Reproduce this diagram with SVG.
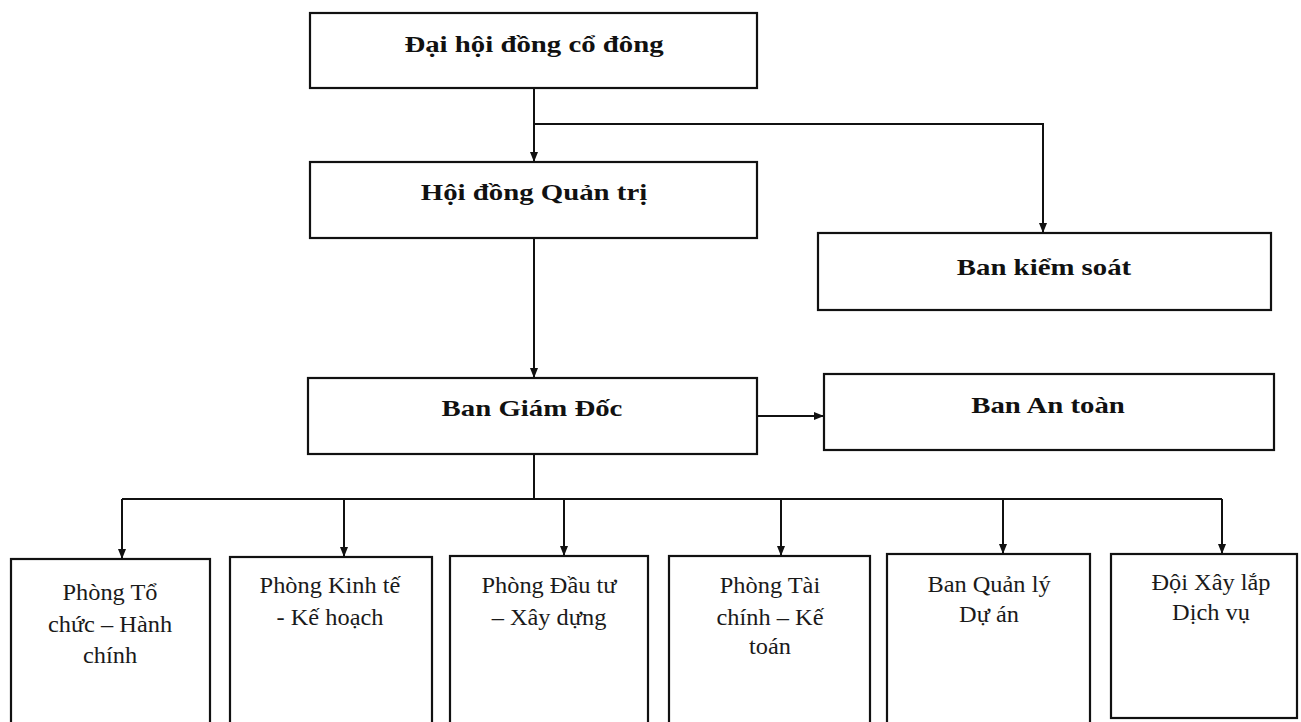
<svg xmlns="http://www.w3.org/2000/svg" width="1301" height="722" viewBox="0 0 1301 722">
<style>
.box{fill:#fff;stroke:#111;stroke-width:2.2}
.t{font-family:"Liberation Serif","Times New Roman",serif;font-weight:bold;font-size:24px;fill:#111;text-anchor:middle}
.s{font-family:"Liberation Serif","Times New Roman",serif;font-size:23px;fill:#1a1a1a;text-anchor:middle}
.c{fill:none;stroke:#111;stroke-width:2}
</style>
<defs>
<marker id="ah" markerWidth="10" markerHeight="10" refX="9" refY="5" orient="auto" markerUnits="userSpaceOnUse">
<path d="M0,1 L10,5 L0,9 Z" fill="#111"/>
</marker>
</defs>
<rect width="1301" height="722" fill="#fff"/>
<g id="connectors">
<path class="c" d="M534,88 V161" marker-end="url(#ah)"/>
<path class="c" d="M534,124 H1043 V232" marker-end="url(#ah)"/>
<path class="c" d="M534,238 V377" marker-end="url(#ah)"/>
<path class="c" d="M757,416 H823" marker-end="url(#ah)"/>
<path class="c" d="M534,454 V499"/>
<path class="c" d="M122,499 H1222"/>
<path class="c" d="M122,499 V558" marker-end="url(#ah)"/>
<path class="c" d="M344,499 V556" marker-end="url(#ah)"/>
<path class="c" d="M564,499 V555" marker-end="url(#ah)"/>
<path class="c" d="M781,499 V555" marker-end="url(#ah)"/>
<path class="c" d="M1003,499 V553" marker-end="url(#ah)"/>
<path class="c" d="M1222,499 V553" marker-end="url(#ah)"/>
</g>
<g id="n-daihoi">
<rect class="box" x="310" y="13" width="447" height="75"/>
<text class="t" transform="translate(534,52) scale(1.2,1)">Đại hội đồng cổ đông</text>
</g>
<g id="n-hdqt">
<rect class="box" x="310" y="162" width="447" height="76"/>
<text class="t" transform="translate(534,200) scale(1.2,1)">Hội đồng Quản trị</text>
</g>
<g id="n-bks">
<rect class="box" x="818" y="233" width="453" height="77"/>
<text class="t" transform="translate(1044,275) scale(1.2,1)">Ban kiểm soát</text>
</g>
<g id="n-bgd">
<rect class="box" x="308" y="378" width="449" height="76"/>
<text class="t" transform="translate(532,416) scale(1.2,1)">Ban Giám Đốc</text>
</g>
<g id="n-bat">
<rect class="box" x="824" y="374" width="450" height="76"/>
<text class="t" transform="translate(1048,413) scale(1.2,1)">Ban An toàn</text>
</g>
<g id="n-tchc">
<rect class="box" x="11" y="559" width="199" height="175"/>
<text class="s" transform="translate(110,600) scale(1.06,1)">Phòng Tổ</text>
<text class="s" transform="translate(110,632) scale(1.06,1)">chức – Hành</text>
<text class="s" transform="translate(110,663) scale(1.06,1)">chính</text>
</g>
<g id="n-ktkh">
<rect class="box" x="230" y="557" width="202" height="177"/>
<text class="s" transform="translate(330,593) scale(1.06,1)">Phòng Kinh tế</text>
<text class="s" transform="translate(330,625) scale(1.06,1)">- Kế hoạch</text>
</g>
<g id="n-dtxd">
<rect class="box" x="450" y="556" width="198" height="178"/>
<text class="s" transform="translate(549,593) scale(1.06,1)">Phòng Đầu tư</text>
<text class="s" transform="translate(549,625) scale(1.06,1)">– Xây dựng</text>
</g>
<g id="n-tckt">
<rect class="box" x="669" y="556" width="201" height="178"/>
<text class="s" transform="translate(770,593) scale(1.06,1)">Phòng Tài</text>
<text class="s" transform="translate(770,625) scale(1.06,1)">chính – Kế</text>
<text class="s" transform="translate(770,654) scale(1.06,1)">toán</text>
</g>
<g id="n-bqlda">
<rect class="box" x="887" y="554" width="203" height="180"/>
<text class="s" transform="translate(989,592) scale(1.06,1)">Ban Quản lý</text>
<text class="s" transform="translate(989,622) scale(1.06,1)">Dự án</text>
</g>
<g id="n-dxl">
<rect class="box" x="1111" y="554" width="186" height="164"/>
<text class="s" transform="translate(1211,590) scale(1.06,1)">Đội Xây lắp</text>
<text class="s" transform="translate(1211,620) scale(1.06,1)">Dịch vụ</text>
</g>
</svg>
